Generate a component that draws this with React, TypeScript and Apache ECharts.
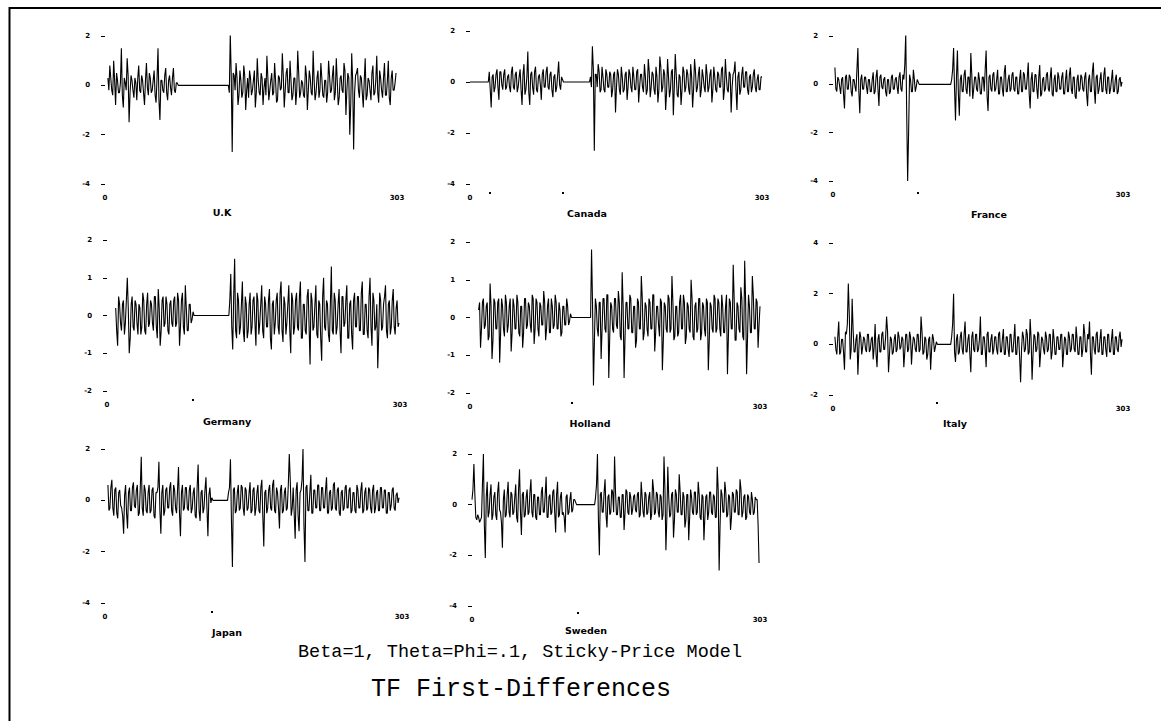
import React, { useEffect, useRef } from 'react';
import * as echarts from 'echarts';

// ---------- data (values in tenths of a unit) ----------
// *_A / *_B : values at even offsets of each block; *_AO / *_BO : values at the odd offsets in between
const COUNTRIES = ['U.K', 'Canada', 'France', 'Germany', 'Holland', 'Italy', 'Japan', 'Sweden'];
const X_MIN = 0;
const X_MAX = 303;
const Y_MIN = [-4, -4, -4, -2, -2, -2, -4, -4];
const Y_MAX = [2, 2, 2, 2, 2, 4, 2, 2];
const Y_STEP = [2, 2, 2, 1, 1, 2, 2, 2];

// block starts: [first block, second block]; LEAD = flat zero before first block
const STARTS = [[3, 128], [20, 125], [2, 124], [9, 126], [9, 127], [2, 124], [3, 126], [0, 130]];
const LEAD = [false, true, false, false, false, false, false, false];

const UK_A = [3, 8, -2, 10, -8, 2, -3, 15, -9, 1, 11, -15, 4, -2, 3, -6, 8, -3, 2, -8, 9, -4, 3, -2, 6, -7, 15, -14, 2, -3, 7, -6, 4, -4, 7, -3, 1];
const UK_AO = [-2, 3, -4, 2, 5, -3, 1, -4, 3, -2, 4, -3, 2, -5, 1, 3, -2, 4, -3, 2, -1, 5, -3, 2, -4, 3, -6, 2, -2, 4, -3, 2, -1, 3, -2, 1];
const UK_B = [0, 21, -27, 4, 9, -8, 6, -5, 8, -10, 3, 6, -4, 2, -9, 11, -3, 5, -8, 3, 12, -6, 2, -4, 9, -7, 4, -2, 13, -9, 5, -3, 10, -6, 3, -8, 14, -5, 2, -4, 8, -10, 6, -3, 14, -6, 3, -5, 9, -4, 2, -7, 10, -3, 4, -6, 11, -8, 3, -2, 9, -12, 5, -20, 13, -26, 4, 7, -5, 3, -9, 11, -4, 2, -6, 8, -3, 12, -7, 3, -5, 9, -4, 10, -8, 6, -2, 5];
const UK_BO = [-3, 4, 5, -2, 3, -4, 2, -3, 4, -2, -5, 3, -2, 6, -3, 2, -4, 3, -1, -4, 3, -2, 5, -3, 2, -6, 3, -1, 4, -2, 7, -3, 2, -4, 3, -2, 5, -3, 1, -5, 4, -2, 3, -4, 2, -3, 6, -2, 3, -5, 2, -3, 4, -2, 8, -3, 2, -5, 4, -3, 6, -2, 3, -8, 2, -3, 5, -2, 4, -3, 2, -6, 3, -2, 5, -4, 2, -3, 6, -2, 3, -4, 2, -5, 3, -2, 1];

const CA_A = [4, -10, 3, -2, 5, -7, 4, -3, 5, -2, 3, -4, 6, -3, 4, -2, 5, -9, 7, -3, 12, -9, 4, -5, 6, -4, 3, -7, 5, -2, 6, -3, 4, -6, 3, -2, 8, -3, 1];
const CA_AO = [-3, 2, -4, 3, -2, 4, -1, 3, -3, 2, -2, 4, -2, 3, -4, 2, -3, 3, -5, 2, -4, 3, -2, 4, -3, 2, -1, 3, -2, 4, -2, 3, -3, 2, -4, 3, -1, 2];
const CA_B = [2, 14, -27, 3, 7, -4, 6, -3, 5, -2, 4, -6, 3, -12, 5, -3, 6, -4, 3, -7, 5, -2, 6, -3, 4, -8, 3, -2, 7, -5, 9, -6, 4, -3, 6, -8, 10, -4, 5, -11, 9, -6, 4, -13, 11, -5, 3, -9, 6, -4, 5, -3, 7, -10, 9, -4, 3, -6, 5, -2, 7, -4, 3, -8, 6, -3, 4, -2, 5, -7, 9, -3, 4, -12, 3, 8, -11, 4, -3, 6, -2, 4, -5, 3, -2, 5, -4, 3, -3, 2];
const CA_BO = [-2, 5, 3, -2, 4, -3, 2, -4, 3, -2, 3, -3, 4, -2, 3, -5, 2, -3, 4, -2, 3, -4, 2, -3, 5, -2, 3, -4, 2, -3, 4, -2, 3, -5, 2, -3, 6, -2, 3, -4, 2, -3, 5, -2, 3, -6, 2, -3, 4, -2, 3, -5, 2, -3, 4, -2, 6, -3, 2, -4, 3, -2, 5, -3, 2, -4, 3, -2, 6, -3, 2, -4, 3, -2, 4, -3, 2, -5, 3, -2, 4, -3, 2, -4, 3, -2, 1, -3, 2];

const FR_A = [7, -3, 2, -4, 3, -10, 4, -2, 3, -5, 2, -3, 15, -12, 4, -2, 3, -4, 2, -3, 5, -3, 6, -9, 4, -2, 3, -5, 2, -3, 4, -2, 3, -4, 5, -3, 2, 21, -40, 4, -3, 6, -3, 2, 0];
const FR_AO = [-2, 3, -1, 2, -4, 3, -2, 4, -3, 2, -1, 6, -3, 2, -2, 3, -1, 2, -3, 2, -4, 3, -2, 3, -1, 2, -3, 2, -4, 3, -2, 2, -1, 3, -2, 4, 8, -12, -20, 2, -3, 2, -1, 1];
const FR_B = [2, 15, -15, 14, -13, 4, -3, 6, -4, 3, 13, -6, 3, -2, 5, -4, 3, -3, 14, -11, 4, -3, 5, -2, 6, -4, 3, -5, 8, -3, 4, -2, 5, -3, 3, -4, 6, -3, 4, -2, 9, -10, 5, -3, 4, -6, 8, -4, 3, -2, 5, -3, 7, -5, 4, -3, 3, -2, 5, -4, 6, -3, 7, -4, 3, -6, 4, -2, 3, -3, 5, -9, 4, -3, 9, -8, 4, -2, 5, -3, 7, -4, 3, -2, 6, -3, 4, -3, 3, 1];
const FR_BO = [6, -2, 3, -4, 2, -3, 4, -2, 3, -5, 4, -2, 3, -3, 2, -4, 3, 6, -5, 3, -2, 4, -3, 2, -4, 3, -2, 5, -3, 2, -3, 4, -2, 3, -4, 2, -3, 5, -2, 3, -4, 2, -3, 4, -2, 3, -5, 2, -3, 4, -2, 3, -4, 2, -3, 5, -2, 3, -4, 2, -3, 4, -2, 3, -5, 2, -3, 4, -2, 3, -4, 2, -3, 5, -2, 3, -4, 2, -3, 4, -2, 3, -4, 2, -3, 2, -4, 2, -1];

const DE_A = [2, -8, 3, -4, 4, -2, 10, -10, 3, -3, 4, -2, 3, -5, 6, -4, 3, -3, 4, -2, 5, -3, 7, -8, 4, -3, 5, -4, 3, -2, 4, -3, 6, -8, 4, -3, 8, -4, 3, -2, 1];
const DE_AO = [-4, 5, -2, 3, -5, 4, 2, -6, 5, -4, 3, -5, 2, -3, 4, -5, 6, -2, 3, -4, 5, -6, 2, -4, 5, -2, 3, -5, 4, -3, 5, -2, 4, -3, 6, -5, 2, -4, 3, -1];
const DE_B = [0, 11, -9, 15, -6, 4, -3, 9, -7, 3, -4, 6, -3, 5, -8, 4, -2, 8, -6, 3, -3, 7, -9, 4, -2, 6, -5, 9, -7, 3, -2, 8, -10, 4, -3, 6, -4, 9, -6, 3, -5, 7, -13, 4, -3, 8, -6, 3, -12, 10, -4, 3, -7, 13, -5, 4, -3, 7, -10, 5, -2, 8, -6, 4, -9, 6, -3, 5, -4, 9, -5, 3, -6, 10, -8, 4, -3, -14, 6, -4, 3, 8, -6, 4, -3, 7, -5, 4, -2];
const DE_BO = [4, -3, 5, -4, 6, -5, 3, -4, 5, -6, 3, -5, 4, -2, 6, -5, 3, -4, 5, -3, 4, -6, 3, -5, 4, -3, 6, -4, 5, -5, 3, -4, 6, -5, 4, -3, 5, -6, 3, -4, 5, -3, 6, -4, 3, -5, 4, -6, 5, -3, 4, -5, 3, -4, 6, -5, 3, -4, 5, -3, 4, -6, 3, -5, 4, -3, 5, -4, 6, -5, 3, -4, 5, -3, 6, -4, 3, -5, 4, -3, 5, -4, 3, -5, 4, -3, 2, -3];

const NL_A = [2, -8, 4, -3, 3, -6, 9, -11, 5, -3, 4, -12, 5, -3, 6, -4, 3, -9, 5, -3, 6, -4, 3, -8, 5, -3, 4, -2, 6, -7, 5, -3, 4, -2, 7, -6, 3, -4, 5, -3, 6, -3, 4, -5, 3, -2, 5, -2, 1];
const NL_AO = [4, -3, 5, -2, 4, -5, 3, -6, 4, -3, 5, -4, 3, -5, 4, -2, 5, -4, 3, -3, 4, -5, 3, -4, 5, -2, 3, -4, 5, -3, 4, -5, 3, -2, 4, -3, 5, -4, 3, -2, 4, -3, 2, -4, 3, -2, 3, -1];
const NL_B = [18, -18, 5, -3, 4, -11, 5, -3, 6, -16, 4, -3, 5, -2, 7, -5, 12, -16, 4, -3, 6, -4, 3, -8, 5, -3, 11, -6, 4, -3, 5, -3, 6, -9, 3, -2, 5, -14, 4, -3, 6, -4, 11, -6, 3, -5, 4, -3, 6, -7, 4, -3, 10, -5, 3, -4, 5, -6, 4, -3, 5, -14, 4, -3, 6, -4, 5, -3, 6, -4, 3, -15, 5, -3, 14, -6, 4, -3, 8, -5, 15, -15, 6, -4, 11, -3, 5, -8, 3];
const NL_BO = [4, -6, 3, -5, 4, -3, 5, -4, 6, -5, 3, -4, 5, -3, 4, -6, 3, -5, 4, -3, 5, -4, 3, -6, 4, -3, 5, -4, 3, -5, 4, -3, 6, -4, 3, -5, 4, -6, 3, -4, 5, -3, 4, -5, 3, -4, 6, -3, 4, -5, 3, -4, 5, -6, 4, -3, 5, -4, 3, -5, 4, -6, 3, -4, 5, -3, 4, -5, 3, -4, 6, -5, 4, -3, 5, -6, 3, -4, 5, -6, 4, -5, 3, -4, 6, -3, 4, -2];

const IT_A = [3, -4, 9, -3, 2, -10, 4, 24, -6, 18, -3, 2, -12, 5, -4, 3, -2, 4, -3, 2, -6, 8, -9, 4, -3, 5, -2, 11, -11, 3, -4, 2, -3, 5, -2, 3, -9, 4, -3, 5, -8, 3, -2, 4, -3, 11, -4, 3, -6, 2, -10, 4, -3, 1];
const IT_AO = [-2, 3, -4, 2, -3, 5, 8, 12, -2, 6, -3, 4, -2, 3, -1, 2, -3, 4, -2, 3, -1, -4, 2, -3, 4, -2, 3, 5, -4, 2, -3, 4, -2, 3, -1, 2, -3, 4, -2, 3, -1, 2, -3, 4, -2, 5, -3, 2, -4, 3, -2, 2, -1];
const IT_B = [3, 20, -7, 4, -3, 5, -4, 9, -3, 4, -11, 5, -3, 4, -2, 11, -4, 3, -9, 5, -3, 4, -2, 3, -4, 5, -3, 6, -4, 3, -5, 4, -3, 8, -4, 3, -15, 5, -3, 6, -4, 10, -14, 4, -3, 5, -9, 3, -2, 5, -3, 4, -6, 6, -4, 3, -2, 4, -9, 3, -4, 5, -3, 4, -2, 7, -4, 3, -5, 8, -3, 4, 9, -12, 3, -4, 5, -3, 6, -4, 3, -5, 4, -3, 6, -4, 3, -3, 5, 2];
const IT_BO = [8, -3, 2, -4, 3, -2, 4, -3, 2, -4, 3, -2, 4, -3, 2, -4, 3, -2, 4, -3, 2, -4, 3, -2, 4, -3, 2, -4, 3, -2, 4, -3, 2, -4, 3, -5, -2, 3, -2, 4, -3, 2, -4, 3, -2, 4, -3, 2, -4, 3, -2, 4, -3, 2, -4, 3, -2, 4, -3, 2, -4, 3, -2, 4, -3, 2, -4, 3, -2, 4, -3, 2, -4, 3, -2, 4, -3, 2, -4, 3, -2, 4, -3, 2, -4, 3, -2, 3, -1];

const JP_A = [6, -3, 8, -6, 5, -7, 4, -3, -13, 6, -11, 5, -4, 7, -3, 6, -5, 17, -6, 4, -5, 6, -4, 5, -7, 3, 15, -13, 6, -4, 5, -3, 7, -6, 4, -5, 13, -14, 6, -3, 5, -4, 6, -3, 5, -7, 14, -8, 4, -3, 9, -14, 5, 1];
const JP_AO = [-4, 5, -3, 4, -5, 3, -2, -6, 2, -5, 3, -4, 5, -2, 4, -6, 5, -3, 6, -4, 3, -5, 4, -6, 3, 5, -4, 3, -6, 4, -3, 5, -4, 6, -3, 4, -5, 3, -4, 5, -3, 4, -5, 3, -6, 5, -4, 3, -5, 4, -3, 2, -1];
const JP_B = [3, 16, -26, 5, -4, 6, -3, 5, -6, 4, -3, 7, -4, 5, -3, 6, -5, 8, -18, 4, -3, 6, -4, 8, -5, 3, -11, 6, -4, 5, -3, 18, -6, 5, -15, 7, -12, 4, 20, -24, 6, -4, 10, -5, 4, -3, 6, -4, 5, -3, 9, -5, 4, -3, 7, -4, 5, -6, 4, -3, 6, -3, 5, -4, 3, -5, 4, -3, 7, -4, 5, -3, 4, -5, 6, -3, 4, -4, 5, -3, 4, -5, 3, -2, 5, -4, 3, 1];
const JP_BO = [5, -8, 4, -5, 3, -4, 6, -3, 5, -4, 3, -5, 4, -6, 3, -4, 5, -6, 3, -5, 4, -3, 6, -4, 5, -3, 4, -5, 3, -4, 6, 8, -3, -5, 4, -6, 3, 8, -10, 5, -4, 3, -5, 4, -3, 6, -4, 5, -3, 4, -5, 3, -4, 6, -3, 4, -5, 3, -4, 5, -3, 4, -5, 3, -4, 6, -3, 4, -5, 3, -4, 5, -3, 4, -5, 3, -4, 5, -3, 4, -5, 3, -4, 4, -3, 2, -1];

const SE_A = [2, 16, -5, -4, -7, -5, 20, -21, 9, -3, 8, -4, 5, -6, 9, -3, -17, 6, -4, 9, -5, 4, -3, 8, -7, 14, -12, 5, -4, 6, -3, 10, -5, 4, -6, 3, -4, 7, -3, 11, -5, 4, -3, 6, -11, 9, -4, 5, -3, -11, 4, -3, 5, -2, 2, 0];
const SE_AO = [6, 4, -6, -5, -6, 8, -8, 3, -5, 4, -6, 3, -4, 5, -2, -7, 2, -5, 4, -3, 5, -4, 3, -5, 6, -3, 4, -5, 3, -4, 5, -3, 4, -5, 3, -4, 5, -3, 4, -5, 3, -4, 5, -3, 4, -5, 3, -4, -5, 3, -4, 2, -3, 2, 1];
const SE_B = [3, 20, -20, 5, -3, 10, -9, 4, -3, 5, 19, -4, 3, -5, 4, -10, 6, -3, 5, -4, 3, -2, 4, -5, 9, -3, 5, -4, 3, -6, 10, -4, 5, -3, 4, -6, 19, -18, 15, -5, 4, -13, 6, -3, 12, -4, 5, -9, 4, -14, 6, -3, 5, -4, 9, -5, 4, -14, 3, -6, 5, -3, 4, -5, 15, -26, 6, -3, 9, -5, 4, -10, 5, -3, 6, -4, 10, -5, 3, -6, 4, -3, 5, -4, 3, 2, -23];
const SE_BO = [8, -6, 4, -3, 5, -4, 3, -4, 6, -3, 5, -4, 3, -5, 4, -3, 5, -4, 3, -2, 4, -3, 5, -4, 3, -5, 4, -3, 5, -4, 6, -3, 4, -5, 3, -4, 6, -5, 3, -4, 5, -6, 4, -3, 5, -4, 3, -6, 4, -5, 3, -4, 5, -3, 4, -6, 3, -5, 4, -3, 5, -4, 3, -5, 6, -8, 4, -3, 5, -4, 3, -5, 4, -3, 5, -4, 6, -3, 4, -5, 3, -4, 2, -3, 2, -8];

const BLOCKS_A = [UK_A, CA_A, FR_A, DE_A, NL_A, IT_A, JP_A, SE_A];
const BLOCKS_AO = [UK_AO, CA_AO, FR_AO, DE_AO, NL_AO, IT_AO, JP_AO, SE_AO];
const BLOCKS_B = [UK_B, CA_B, FR_B, DE_B, NL_B, IT_B, JP_B, SE_B];
const BLOCKS_BO = [UK_BO, CA_BO, FR_BO, DE_BO, NL_BO, IT_BO, JP_BO, SE_BO];

// ---------- layout ----------
const GRIDS = [
  { left: 105, top: 36, width: 292, height: 148 },
  { left: 470, top: 31, width: 292, height: 153 },
  { left: 833, top: 36, width: 290, height: 145 },
  { left: 107, top: 240, width: 293, height: 151 },
  { left: 470, top: 242, width: 290, height: 151 },
  { left: 833, top: 243, width: 290, height: 152 },
  { left: 105, top: 449, width: 297, height: 154 },
  { left: 472, top: 454, width: 288, height: 152 },
];
const LABEL_POS = [
  [222, 212], [587, 213], [989, 214],
  [227, 421], [590, 423], [955, 423],
  [227, 632], [586, 630],
];
const DOTS = [[563, 193], [918, 193], [193, 400], [572, 403], [937, 403], [212, 612], [578, 613], [490, 193]];

function pushBlock(pts: number[][], start: number, even: number[], odd: number[]) {
  even.forEach((v, i) => {
    pts.push([start + 2 * i, v / 10]);
    if (i < even.length - 1 && odd[i] !== undefined) pts.push([start + 2 * i + 1, odd[i] / 10]);
  });
  return start + 2 * (even.length - 1);
}

function buildPoints(k: number) {
  const [sa, sb] = STARTS[k];
  const pts: number[][] = [];
  if (LEAD[k]) {
    pts.push([X_MIN, 0]);
    pts.push([sa - 1, 0]);
  }
  const endA = pushBlock(pts, sa, BLOCKS_A[k], BLOCKS_AO[k]);
  pts.push([endA + 1, 0]);
  pts.push([sb - 1, 0]);
  pushBlock(pts, sb, BLOCKS_B[k], BLOCKS_BO[k]);
  return pts;
}

const TICK_FONT = { fontSize: 7, fontWeight: 'bold' as const, fontFamily: 'DejaVu Sans', color: '#000' };

export default function App() {
  const ref = useRef<HTMLDivElement>(null);
  useEffect(() => {
    if (!ref.current) return;
    const chart = echarts.init(ref.current, undefined, { renderer: 'svg' });
    const option: any = {
      animation: false,
      backgroundColor: '#fff',
      grid: GRIDS.map((g) => ({ ...g, containLabel: false })),
      xAxis: GRIDS.map((_, k) => ({
        type: 'value',
        gridIndex: k,
        min: X_MIN,
        max: X_MAX,
        interval: X_MAX,
        axisLine: { show: false },
        axisTick: { show: false },
        splitLine: { show: false },
        axisLabel: { ...TICK_FONT, margin: 10, showMinLabel: true, showMaxLabel: true },
      })),
      yAxis: GRIDS.map((_, k) => ({
        type: 'value',
        gridIndex: k,
        min: Y_MIN[k],
        max: Y_MAX[k],
        interval: Y_STEP[k],
        offset: 3,
        axisLine: { show: false },
        axisTick: { show: true, length: 4, lineStyle: { color: '#000', width: 1 } },
        splitLine: { show: false },
        axisLabel: { ...TICK_FONT, margin: 12 },
      })),
      series: GRIDS.map((_, k) => ({
        type: 'line',
        name: COUNTRIES[k],
        xAxisIndex: k,
        yAxisIndex: k,
        data: buildPoints(k),
        symbol: 'none',
        showSymbol: false,
        lineStyle: { color: '#000', width: 1.1 },
        emphasis: { disabled: true },
      })),
      graphic: [
        { type: 'line', shape: { x1: 9.5, y1: 7, x2: 9.5, y2: 721 }, style: { stroke: '#000', lineWidth: 2 } },
        { type: 'line', shape: { x1: 9, y1: 8, x2: 1161, y2: 8 }, style: { stroke: '#000', lineWidth: 2 } },
        ...COUNTRIES.map((c, k) => ({
          type: 'text',
          x: LABEL_POS[k][0],
          y: LABEL_POS[k][1],
          style: {
            text: c,
            fill: '#000',
            fontSize: 9.5,
            fontWeight: 'bold',
            fontFamily: 'DejaVu Sans',
            align: 'center',
            verticalAlign: 'middle',
            textAlign: 'center',
            textVerticalAlign: 'middle',
          },
        })),
        ...DOTS.map((d) => ({
          type: 'rect',
          shape: { x: d[0] - 1, y: d[1] - 1, width: 2, height: 2 },
          style: { fill: '#000' },
        })),
        {
          type: 'text',
          x: 520,
          y: 652,
          style: {
            text: 'Beta=1, Theta=Phi=.1, Sticky-Price Model',
            fill: '#000',
            fontSize: 18.5,
            fontFamily: 'Liberation Mono',
            align: 'center',
            verticalAlign: 'middle',
            textAlign: 'center',
            textVerticalAlign: 'middle',
          },
        },
        {
          type: 'text',
          x: 521,
          y: 689,
          style: {
            text: 'TF First-Differences',
            fill: '#000',
            fontSize: 25,
            fontFamily: 'Liberation Mono',
            align: 'center',
            verticalAlign: 'middle',
            textAlign: 'center',
            textVerticalAlign: 'middle',
          },
        },
      ],
    };
    chart.setOption(option);
    return () => chart.dispose();
  }, []);
  return (
    <div
      ref={ref}
      style={{ position: 'fixed', left: 0, top: 0, width: 1161, height: 721, background: '#fff' }}
    />
  );
}
